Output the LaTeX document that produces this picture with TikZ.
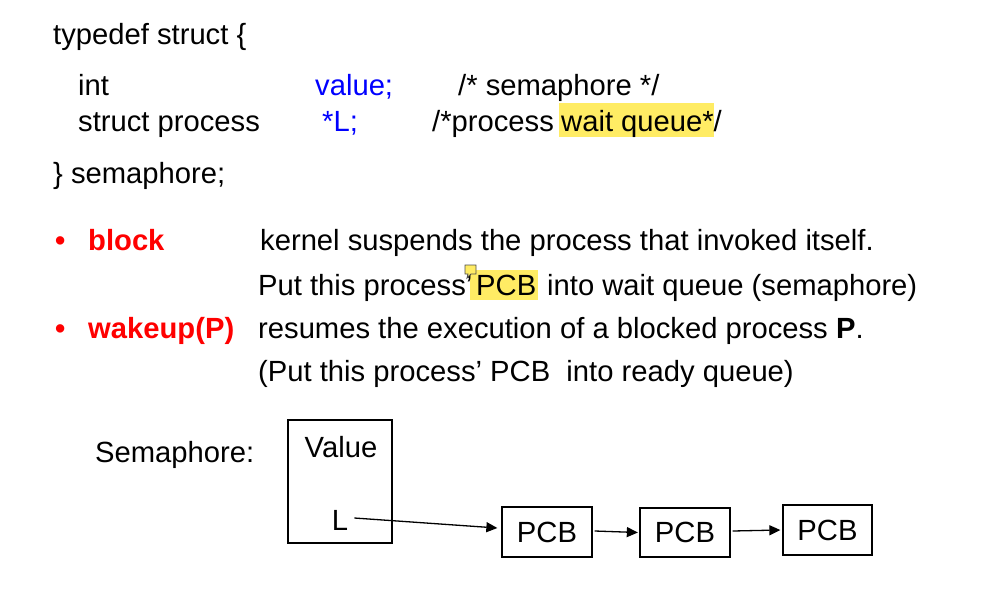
\documentclass[tikz,border=0pt]{standalone}
\usepackage{fontspec}
\setmainfont{Liberation Sans}
\usetikzlibrary{arrows.meta}
\definecolor{codeblue}{RGB}{0,0,255}
\definecolor{hl}{RGB}{255,236,100}
\definecolor{kwred}{RGB}{255,0,0}
\begin{document}
\begin{tikzpicture}[x=1pt,y=-1pt,
  txt/.style={anchor=base west, inner sep=0pt, font=\fontsize{29.2}{34}\selectfont},
  ctxt/.style={inner sep=0pt, font=\fontsize{29.2}{34}\selectfont},
  kw/.style={txt, text=kwred, font=\fontsize{29.2}{34}\selectfont\bfseries},
  box/.style={draw, line width=1.3pt, inner sep=0pt},
  arr/.style={draw, line width=1.3pt, -{Triangle[length=11pt,width=10pt]}}]
\useasboundingbox (0,0) rectangle (1001,608);
% code block
\node[txt] (l1) at (53,44) {typedef struct \{};
\node[txt] (int) at (78,95) {int};
\node[txt, text=codeblue] (val) at (315,95) {value;};
\node[txt] (c1) at (458,95) {/* semaphore */};
\node[txt] (sp) at (78,131) {struct process};
\node[txt, text=codeblue] (Lp) at (322,131) {*L;};
\fill[hl] (559,103) rectangle (714,137);
\node[txt] (c2) at (432,131) {/*process};
\node[txt] (wq) at (561,131) {wait queue*/};
\node[txt] (l4) at (53,183) {\} semaphore;};
% bullets
\node[kw] (b1) at (55,250) {\textbullet};
\node[kw] (blk) at (88,250) {block};
\node[txt] (k1) at (260,250) {kernel suspends the process that invoked itself.};
\fill[hl] (470,270) rectangle (538,300);
\node[txt] (k2a) at (258,295) {Put this process’};
\node[txt] (k2b) at (476,295) {PCB};
\node[txt] (k2c) at (547,295) {into wait queue (semaphore)};
\draw[fill=hl, draw=black!70, line width=0.8pt] (465,265) -- (476,265) -- (476,274) -- (471,274) -- (467,278) -- (468,274) -- (465,274) -- cycle;
\node[kw] (b2) at (55,338) {\textbullet};
\node[kw] (wk) at (88,338) {wakeup(P)};
\node[txt] (w1) at (258,338) {resumes the execution of a blocked process \textbf{P}.};
\node[txt] (w2) at (258,381) {(Put this process’ PCB\ \ into ready queue)};
% diagram
\node[txt] (semlab) at (95,462) {Semaphore:};
\node[box, minimum width=104pt, minimum height=123pt] (sem) at (340,481.5) {};
\node[ctxt] (value) at (341,447) {Value};
\node[ctxt] (Lnode) at (340,520) {L};
\node[box, minimum width=90pt, minimum height=50pt] (p1) at (547,532) {};
\node[box, minimum width=90pt, minimum height=49pt] (p2) at (685,532.5) {};
\node[box, minimum width=89pt, minimum height=50pt] (p3) at (827.5,530) {};
\node[ctxt] (p1t) at (p1) {PCB};
\node[ctxt] (p2t) at (p2) {PCB};
\node[ctxt] (p3t) at (p3) {PCB};
\draw[arr] ([xshift=6pt,yshift=2pt]Lnode.east) -- ([xshift=-4pt,yshift=4pt]p1.west);
\draw[arr] ([xshift=2pt,yshift=1pt]p1.east) -- ([xshift=-1.5pt]p2.west);
\draw[arr] ([xshift=2pt,yshift=1.5pt]p2.east) -- ([xshift=-2pt]p3.west);
\end{tikzpicture}
\end{document}
